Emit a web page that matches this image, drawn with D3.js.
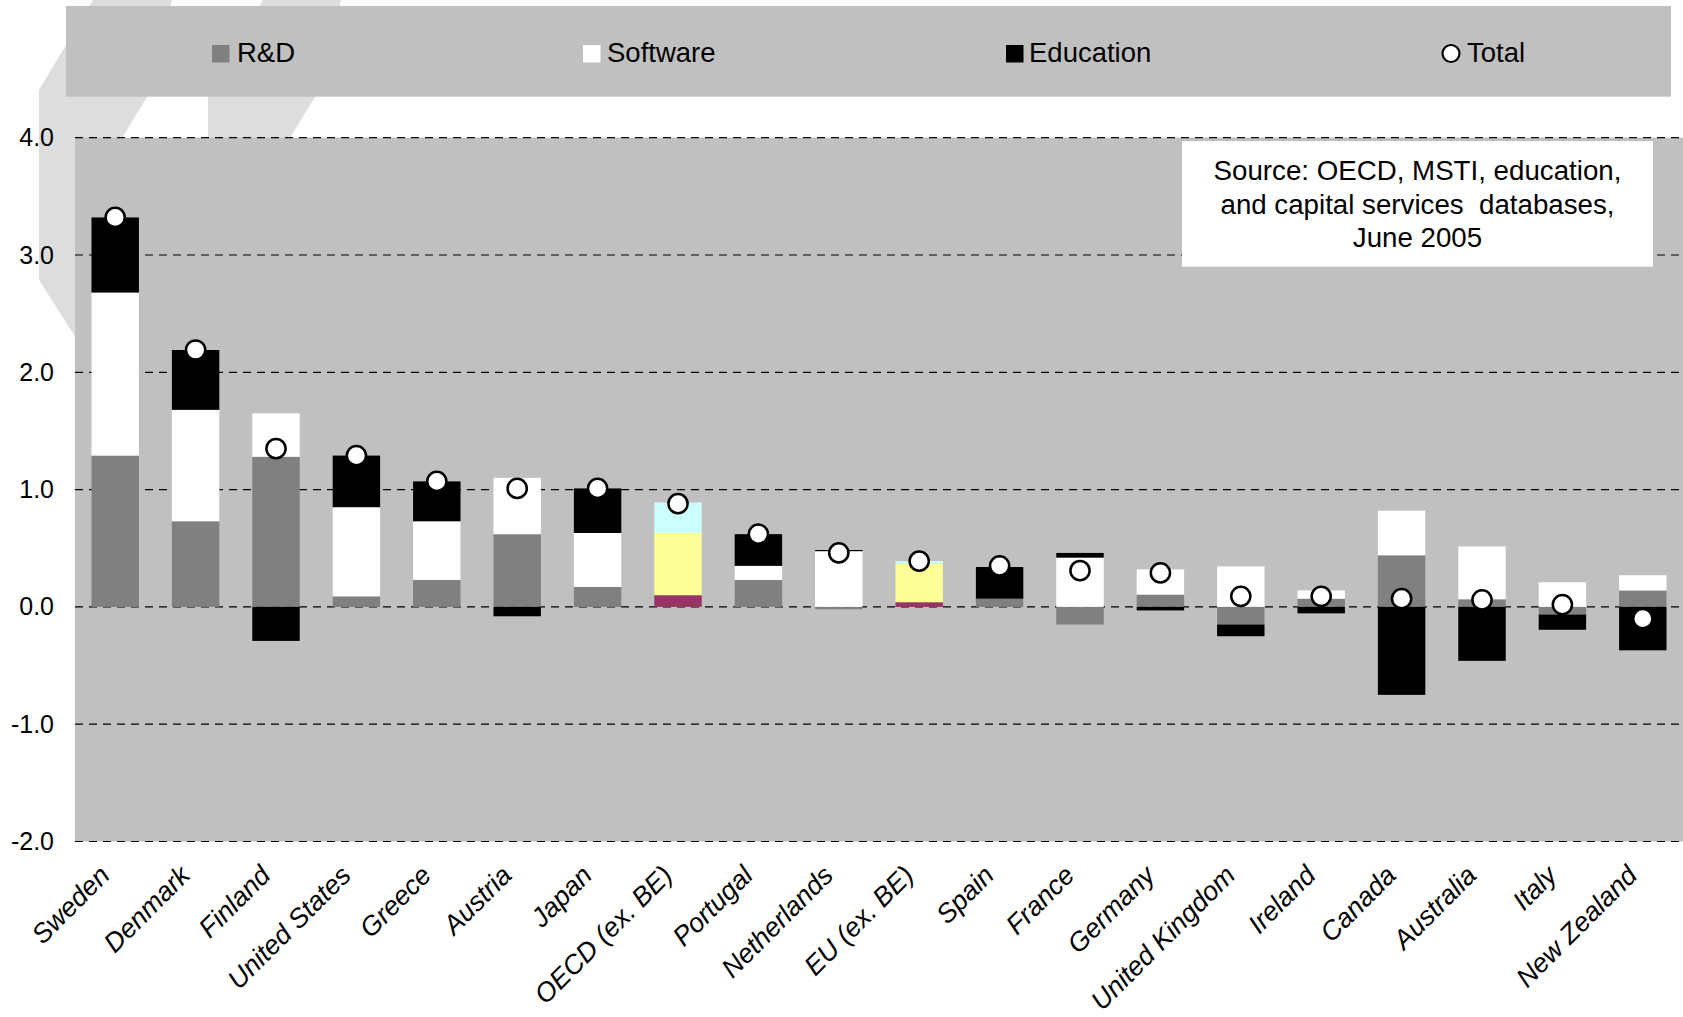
<!DOCTYPE html>
<html>
<head>
<meta charset="utf-8">
<script src="https://cdn.jsdelivr.net/npm/d3@7"></script>
<style>
  html, body { margin: 0; padding: 0; background: #ffffff; }
  svg { display: block; font-family: "Liberation Sans", Arial, sans-serif; }
</style>
</head>
<body>
<svg id="chart" width="1683" height="1017"></svg>
<script>
// Contributions to growth by category (percentage points)
const categories = ["Sweden", "Denmark", "Finland", "United States", "Greece", "Austria", "Japan",
  "OECD (ex. BE)", "Portugal", "Netherlands", "EU (ex. BE)", "Spain", "France", "Germany",
  "United Kingdom", "Ireland", "Canada", "Australia", "Italy", "New Zealand"];
const rdValues        = [1.29, 0.73, 1.28, 0.09, 0.23, 0.62, 0.17, 0.10, 0.23, -0.02, 0.04, 0.07, -0.15, 0.105, -0.15, 0.07, 0.44, 0.065, -0.065, 0.14];
const softwareValues  = [1.39, 0.95, 0.37, 0.76, 0.50, 0.48, 0.46, 0.53, 0.12, 0.475, 0.33, 0.00, 0.42, 0.215, 0.345, 0.07, 0.38, 0.45, 0.21, 0.13];
const educationValues = [0.64, 0.51, -0.29, 0.44, 0.34, -0.08, 0.38, 0.26, 0.27, 0.01, 0.02, 0.27, 0.04, -0.03, -0.10, -0.055, -0.75, -0.46, -0.13, -0.37];
const totalValues     = [3.32, 2.19, 1.35, 1.29, 1.07, 1.01, 1.01, 0.88, 0.62, 0.46, 0.39, 0.35, 0.31, 0.29, 0.09, 0.09, 0.07, 0.06, 0.02, -0.10];
const seriesKeys = ["R&D", "Software", "Education"];
const yTicks = [-2, -1, 0, 1, 2, 3, 4];
const aggregateCategories = ["OECD (ex. BE)", "EU (ex. BE)"];
const sourceLines = ["Source: OECD, MSTI, education,", "and capital services  databases,", "June 2005"];

const seriesColors    = {"R&D": "#808080", "Software": "#ffffff", "Education": "#000000"};
const aggregateColors = {"R&D": "#993366", "Software": "#ffff99", "Education": "#ccffff"};

const rows = categories.map((c, i) => ({
  category: c,
  "R&D": rdValues[i],
  "Software": softwareValues[i],
  "Education": educationValues[i],
  total: totalValues[i]
}));

const svg = d3.select("#chart");

// Light decorative chevrons behind the chart
const deco = svg.append("g").attr("fill", "#dddddd");
deco.append("polygon").attr("points", [[93,0],[172,0],[147,97],[122,138],[100,175],[100,360],[90,360],[39,280],[39,90]].join(" "));
deco.append("polygon").attr("points", [[263,0],[341,0],[315,97],[290,138],[280,170],[208,170],[208,92]].join(" "));

// Legend panel
const legend = svg.append("g");
legend.append("rect").attr("x", 66).attr("y", 6).attr("width", 1605).attr("height", 90.7).attr("fill", "#c0c0c0");
const legendItems = [
  {key: "R&D", sx: 212, tx: 237},
  {key: "Software", sx: 583, tx: 607},
  {key: "Education", sx: 1006, tx: 1029}
];
legendItems.forEach(it => {
  legend.append("rect").attr("x", it.sx).attr("y", 45).attr("width", 17.5).attr("height", 17.5)
    .attr("fill", seriesColors[it.key]);
  legend.append("text").attr("x", it.tx).attr("y", 62).attr("font-size", 27.5).attr("fill", "#000").text(it.key);
});
legend.append("circle").attr("cx", 1451).attr("cy", 53.5).attr("r", 8.5)
  .attr("fill", "#fff").attr("stroke", "#000").attr("stroke-width", 2.2);
legend.append("text").attr("x", 1467).attr("y", 62).attr("font-size", 27.5).attr("fill", "#000").text("Total");

// Scales
const plotLeft = 75, plotRight = 1683;
const x = d3.scaleBand().domain(categories).range([plotLeft, plotRight]).paddingInner(0.41).paddingOuter(0.205);
const y = d3.scaleLinear().domain([-2, 4]).range([841.5, 137.7]);

// Plot background
svg.append("rect").attr("x", plotLeft).attr("y", y(4)).attr("width", plotRight - plotLeft)
  .attr("height", y(-2) - y(4)).attr("fill", "#c0c0c0");

// Dashed gridlines
svg.append("g").selectAll("line").data(yTicks).join("line")
  .attr("x1", plotLeft).attr("x2", plotRight)
  .attr("y1", d => y(d)).attr("y2", d => y(d))
  .attr("stroke", "#000").attr("stroke-width", 1.2).attr("stroke-dasharray", "8,6");

// Y axis labels
const yAxis = d3.axisLeft(y).tickValues(yTicks).tickSize(0).tickPadding(0).tickFormat(d => d.toFixed(1));
const yAxisG = svg.append("g").attr("transform", "translate(54,0)").call(yAxis);
yAxisG.select(".domain").remove();
yAxisG.selectAll("text").attr("font-size", 25).attr("fill", "#000")
  .attr("font-family", "'Liberation Sans', Arial, sans-serif");

// Stacked bars (positive parts stack up, negative parts stack down)
const stacked = d3.stack().keys(seriesKeys).offset(d3.stackOffsetDiverging)(rows);
svg.append("g").selectAll("g").data(stacked).join("g")
  .each(function(series) {
    d3.select(this).selectAll("rect").data(series).join("rect")
      .attr("x", d => x(d.data.category))
      .attr("width", x.bandwidth())
      .attr("y", d => y(Math.max(d[0], d[1])))
      .attr("height", d => Math.abs(y(d[0]) - y(d[1])))
      .attr("fill", d => aggregateCategories.includes(d.data.category)
        ? aggregateColors[series.key] : seriesColors[series.key]);
  });

// Total markers
svg.append("g").selectAll("circle").data(rows).join("circle")
  .attr("cx", d => x(d.category) + x.bandwidth() / 2)
  .attr("cy", d => y(d.total))
  .attr("r", 9.6)
  .attr("fill", "#fff").attr("stroke", "#000").attr("stroke-width", 2.5);

// Category labels
const xAxis = d3.axisBottom(x).tickSize(0).tickPadding(0);
const xAxisG = svg.append("g").call(xAxis);
xAxisG.select(".domain").remove();
xAxisG.selectAll(".tick").attr("transform", d => `translate(${x(d) + x.bandwidth() / 2 - 4},877)`);
xAxisG.selectAll("text")
  .attr("y", 0).attr("dy", 0)
  .attr("transform", "rotate(-45)")
  .attr("text-anchor", "end")
  .attr("font-size", 26.8)
  .attr("font-style", "italic")
  .attr("fill", "#000")
  .attr("font-family", "'Liberation Sans', Arial, sans-serif");

// Source note
const note = svg.append("g");
note.append("rect").attr("x", 1182).attr("y", 141).attr("width", 471).attr("height", 125.7).attr("fill", "#fff");
note.selectAll("text").data(sourceLines).join("text")
  .attr("x", 1417.5)
  .attr("y", (d, i) => 180 + i * 33.5)
  .attr("text-anchor", "middle")
  .attr("font-size", 27.7)
  .attr("fill", "#000")
  .style("white-space", "pre")
  .text(d => d);
</script>
</body>
</html>
